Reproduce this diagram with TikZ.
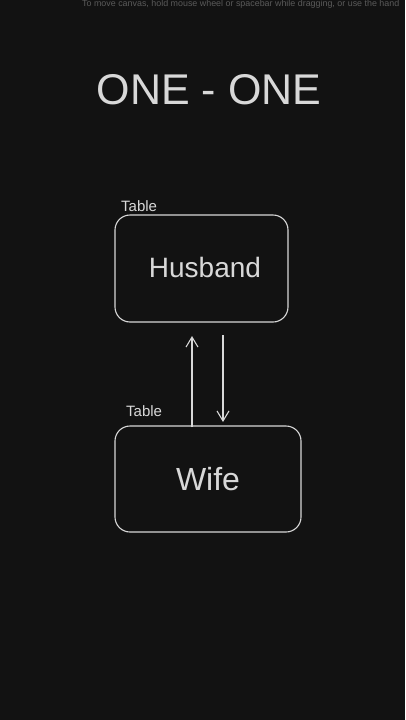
\documentclass[tikz,border=0pt]{standalone}
\usepackage{fontspec}
\setmainfont{Liberation Sans}
\usetikzlibrary{arrows.meta}
\definecolor{bg}{HTML}{121212}
\definecolor{ink}{HTML}{D8D8D8}
\definecolor{faint}{HTML}{5A5A5A}
\begin{document}
\begin{tikzpicture}[x=1pt,y=-1pt,
  tbl/.style={draw=ink, line width=1.1pt, rounded corners=15pt, inner sep=0pt},
  lbl/.style={text=ink, font=\fontsize{15}{15}\selectfont, inner sep=0pt, anchor=base west},
  link/.style={draw=ink, line width=1.1pt, -{Straight Barb[length=10pt,width=12pt]}}]
\useasboundingbox (0,0) rectangle (405,720);
\fill[bg] (0,0) rectangle (405,720);
\begin{scope}
\clip (0,0) rectangle (405,720);
\node[text=faint, font=\fontsize{8.9}{8.9}\selectfont, inner sep=0pt, anchor=base west] (hint) at (82,6) {To move canvas, hold mouse wheel or spacebar while dragging, or use the hand};
\end{scope}
\node[text=ink, font=\fontsize{43}{43}\selectfont, inner sep=0pt] (title) at (209,90) {ONE - ONE};
\draw[tbl] (115,215) rectangle (288,322);
\node (husband) at (201.5,268.5) [minimum width=173pt, minimum height=107pt, inner sep=0pt] {};
\node[text=ink, font=\fontsize{28}{28}\selectfont, inner sep=0pt] (htext) at (205,267) {Husband};
\draw[tbl] (115,426) rectangle (301,532);
\node (wife) at (208,479) [minimum width=186pt, minimum height=106pt, inner sep=0pt] {};
\node[text=ink, font=\fontsize{32}{32}\selectfont, inner sep=0pt] (wtext) at (208,479) {Wife};
\node[lbl] (hl) at (121,211) {Table};
\node[lbl] (wl) at (126,416) {Table};
\coordinate (a1s) at (192,427);
\coordinate (a1e) at (192,336);
\coordinate (a2s) at (223,335);
\coordinate (a2e) at (223,422);
\draw[link] (a1s) -- (a1e);
\draw[link] (a2s) -- (a2e);
\end{tikzpicture}
\end{document}
